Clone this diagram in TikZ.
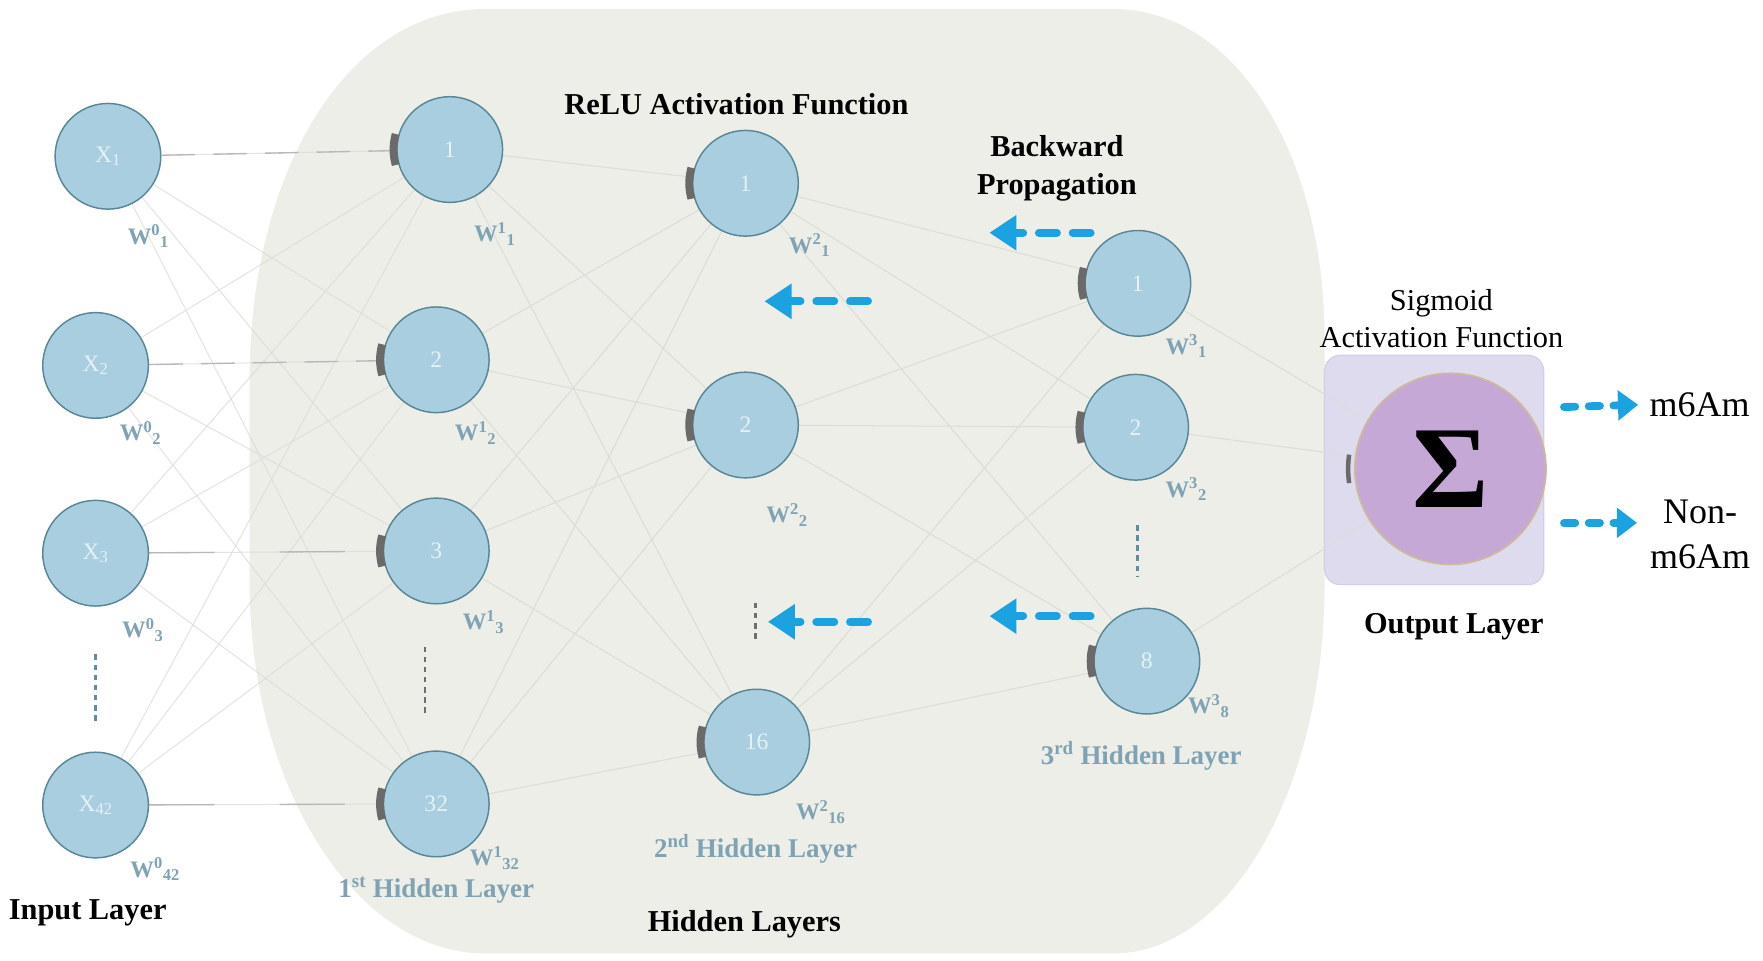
\documentclass[tikz,border=0pt]{standalone}
\usepackage{fontspec}
\setmainfont{Liberation Serif}
\usetikzlibrary{arrows.meta,calc}
\definecolor{bgshape}{HTML}{ECEEE7}
\definecolor{nodefill}{HTML}{A8CEE0}
\definecolor{nodeedge}{HTML}{5A8797}
\definecolor{nodetext}{HTML}{E6F1F6}
\definecolor{labc}{HTML}{7FA3B4}
\definecolor{connc}{HTML}{DCDCD8}
\definecolor{hconnc}{HTML}{B8B8B8}
\definecolor{cyanc}{HTML}{1AA3E0}
\definecolor{markc}{HTML}{6A6A6A}
\definecolor{boxfill}{HTML}{DFDBEF}
\definecolor{boxedge}{HTML}{D3CEE6}
\definecolor{outfill}{HTML}{C6A8D6}
\definecolor{outedge}{HTML}{CDB99C}
\definecolor{dotteal}{HTML}{5E8E9E}
\definecolor{dotgray}{HTML}{6E6E6E}
\pgfdeclarelayer{back}
\pgfdeclarelayer{lines}
\pgfsetlayers{back,lines,main}
\begin{document}
\begin{tikzpicture}[x=1pt,y=-1pt,
  neuron/.style={circle, minimum size=94pt, inner sep=0pt, fill=nodefill, draw=nodeedge, line width=1.3pt, text=nodetext, font=\fontsize{21}{24}\selectfont},
  conn/.style={draw=connc, line width=0.9pt},
  hconn/.style={draw=hconnc, line width=1.2pt, dash pattern=on 30pt off 16pt},
  wlab/.style={text=labc, font=\fontsize{21}{24}\selectfont\bfseries, inner sep=0pt},
  laylab/.style={text=labc, font=\fontsize{24}{28}\selectfont\bfseries, inner sep=0pt},
  title/.style={font=\fontsize{27}{34}\selectfont\bfseries, align=center, inner sep=0pt},
  plain/.style={font=\fontsize{27}{33}\selectfont, align=center, inner sep=0pt},
  backarrow/.style={draw=cyanc, line width=7pt, dash pattern=on 16pt off 14pt, line cap=round, -{Triangle[length=24pt,width=30pt]}},
  outarrow/.style={draw=cyanc, line width=7pt, dash pattern=on 10pt off 12pt, line cap=round, -{Triangle[length=18pt,width=26pt]}},
  dotline/.style={line width=2.5pt, dash pattern=on 5pt off 4pt},
  marker/.style={draw=markc, line width=7pt},
]
\useasboundingbox (0,0) rectangle (1568,854);

% background shape of hidden layers
\begin{pgfonlayer}{back}
\fill[bgshape] (222,338) .. controls (222,150) and (310,8) .. (432,8)
  -- (990,8) .. controls (1100,8) and (1178,139) .. (1178,300)
  -- (1178,520) .. controls (1178,701) and (1094,848) .. (990,848)
  -- (432,848) .. controls (316,848) and (222,700) .. (222,518) -- cycle;
\end{pgfonlayer}

% input layer
\node[neuron] (x1) at (96,139) {X\textsubscript{1}};
\node[neuron] (x2) at (85,325) {X\textsubscript{2}};
\node[neuron] (x3) at (85,492) {X\textsubscript{3}};
\node[neuron] (x42) at (85,716) {X\textsubscript{42}};
% hidden 1
\node[neuron] (a1) at (400,133) {1};
\node[neuron] (a2) at (388,320) {2};
\node[neuron] (a3) at (388,490) {3};
\node[neuron] (a32) at (388,715) {32};
% hidden 2
\node[neuron] (b1) at (663,163) {1};
\node[neuron] (b2) at (663,378) {2};
\node[neuron] (b16) at (673,660) {16};
% hidden 3
\node[neuron] (c1) at (1012,252) {1};
\node[neuron] (c2) at (1010,380) {2};
\node[neuron] (c8) at (1020,588) {8};
% output
\begin{pgfonlayer}{back}
\node[rectangle, rounded corners=14pt, minimum width=195pt, minimum height=204pt, fill=boxfill, draw=boxedge, line width=1pt] (obox) at (1275.5,418) {};
\end{pgfonlayer}
\node[circle, minimum size=170pt, inner sep=0pt, fill=outfill, draw=outedge, line width=1.5pt, font=\fontsize{104}{104}\selectfont\bfseries] (out) at (1290,417) {Σ};

% connections
\begin{pgfonlayer}{lines}
\foreach \i in {x1,x2,x3,x42}{\foreach \j in {a1,a2,a3,a32}{\draw[conn, draw opacity=0.8] (\i) -- (\j);}}
\foreach \i in {a1,a2,a3,a32}{\foreach \j in {b1,b2,b16}{\draw[conn] (\i) -- (\j);}}
\foreach \i in {b1,b2,b16}{\foreach \j in {c1,c2,c8}{\draw[conn] (\i) -- (\j);}}
\foreach \i in {c1,c2,c8}{\draw[conn] (\i) -- (out);}
\draw[hconn] (x1) -- (a1);
\draw[hconn] (x2) -- (a2);
\draw[hconn, dash pattern=on 58pt off 58pt] (x3) -- (a3);
\draw[hconn, dash pattern=on 58pt off 58pt] (x42) -- (a32);
\end{pgfonlayer}

% input markers on the nodes
\foreach \n in {a1,a2,a3,a32,b1,b2,b16,c1,c2,c8}{
  \draw[marker] ($(\n.center)+(164:50)$) arc[start angle=164, end angle=196, radius=50];
}
\draw[marker, line width=4pt] ($(out.center)+(172:91)$) arc[start angle=172, end angle=188, radius=91];

% vertical dots
\draw[dotline, draw=dotteal] (85,582) -- (85,642);
\draw[dotline, draw=dotgray] (378,575) -- (378,636);
\draw[dotline, draw=dotgray] (672,536) -- (672,569);
\draw[dotline, draw=dotteal] (1012,467) -- (1012,513);

% weight labels
\node[wlab] (w01) at (132,210) {W\textsuperscript{0}\textsubscript{1}};
\node[wlab] (w02) at (125,385) {W\textsuperscript{0}\textsubscript{2}};
\node[wlab] (w03) at (127,560) {W\textsuperscript{0}\textsubscript{3}};
\node[wlab] (w042) at (138,773) {W\textsuperscript{0}\textsubscript{42}};
\node[wlab] (w11) at (440,208) {W\textsuperscript{1}\textsubscript{1}};
\node[wlab] (w12) at (423,385) {W\textsuperscript{1}\textsubscript{2}};
\node[wlab] (w13) at (430,553) {W\textsuperscript{1}\textsubscript{3}};
\node[wlab] (w132) at (440,763) {W\textsuperscript{1}\textsubscript{32}};
\node[wlab] (w21) at (720,218) {W\textsuperscript{2}\textsubscript{1}};
\node[wlab] (w22) at (700,458) {W\textsuperscript{2}\textsubscript{2}};
\node[wlab] (w216) at (730,722) {W\textsuperscript{2}\textsubscript{16}};
\node[wlab] (w31) at (1055,308) {W\textsuperscript{3}\textsubscript{1}};
\node[wlab] (w32) at (1055,435) {W\textsuperscript{3}\textsubscript{2}};
\node[wlab] (w38) at (1075,628) {W\textsuperscript{3}\textsubscript{8}};

% layer labels
\node[laylab] (l1) at (388,792) {1\textsuperscript{st} Hidden Layer};
\node[laylab] (l2) at (672,755) {2\textsuperscript{nd} Hidden Layer};
\node[laylab] (l3) at (1015,672) {3\textsuperscript{rd} Hidden Layer};

% titles
\node[title] (tin) at (78,812) {Input Layer};
\node[title] (thid) at (662,822) {Hidden Layers};
\node[title] (trelu) at (655,93) {ReLU Activation Function};
\node[title] (tback) at (940,150) {Backward\\Propagation};
\node[plain] (tsig) at (1282,283) {Sigmoid\\Activation Function};
\node[title] (tout) at (1293,557) {Output Layer};
\node[font=\fontsize{32}{40}\selectfont, inner sep=0pt, anchor=west] (m6am) at (1467,360) {m6Am};
\node[font=\fontsize{32}{40}\selectfont, inner sep=0pt, align=center] (nonm6am) at (1512,475) {Non-\\m6Am};

% backward propagation arrows
\draw[backarrow] (970,207) -- (880,207);
\draw[backarrow] (772,268) -- (680,268);
\draw[backarrow] (772,553) -- (683,553);
\draw[backarrow] (970,548) -- (880,548);

% output arrows
\coordinate (o1s) at (1391,362);
\coordinate (o2s) at (1391,465);
\draw[outarrow] (o1s) -- ([xshift=-10pt]m6am.west);
\draw[outarrow] (o2s) -- (1456,465);
\end{tikzpicture}
\end{document}
